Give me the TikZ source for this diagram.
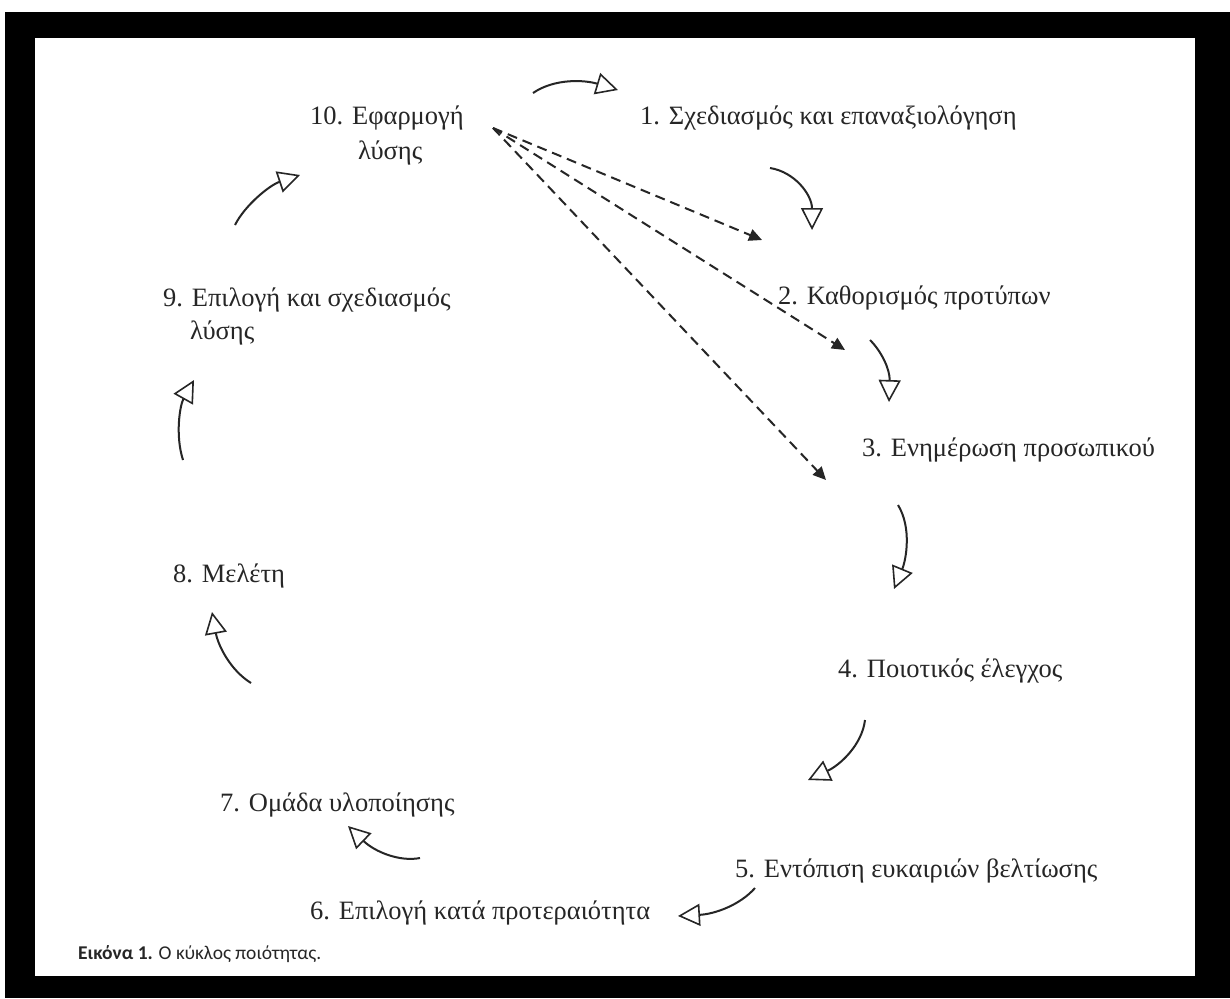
\documentclass[tikz,border=0pt]{standalone}
\usepackage{fontspec}
\setmainfont{Liberation Serif}
\newfontfamily\capfont{Carlito}
\usetikzlibrary{arrows.meta}
\begin{document}
\begin{tikzpicture}[x=1pt,y=-1pt,
  lbl/.style={anchor=base west, inner sep=0pt, font=\fontsize{26.5}{32}\selectfont, text=black!85},
  cyc/.style={line width=2pt, black!85, -{Triangle[open,length=22pt,width=22pt,line width=1.6pt]}},
  dsh/.style={line width=2pt, black!85, dash pattern=on 10pt off 6pt, -{Triangle[length=13pt,width=12pt]}}]
\fill[white] (0,0) rectangle (1230,998);
\fill[black] (5,12) rectangle (1230,998);
\fill[white] (35,38) rectangle (1195,976);
% labels
\node[lbl] (n10) at (310,124) {10. Εφαρμογή};
\node[lbl] (n10b) at (358,159) {λύσης};
\node[lbl] (n1) at (640,124) {1. Σχεδιασμός και επαναξιολόγηση};
\node[lbl] (n2) at (778,304) {2. Καθορισμός προτύπων};
\node[lbl] (n3) at (862,456) {3. Ενημέρωση προσωπικού};
\node[lbl] (n4) at (838,677) {4. Ποιοτικός έλεγχος};
\node[lbl] (n5) at (735,877) {5. Εντόπιση ευκαιριών βελτίωσης};
\node[lbl] (n6) at (310,919) {6. Επιλογή κατά προτεραιότητα};
\node[lbl] (n7) at (220,811) {7. Ομάδα υλοποίησης};
\node[lbl] (n8) at (173,582) {8. Μελέτη};
\node[lbl] (n9) at (163,306) {9. Επιλογή και σχεδιασμός};
\node[lbl] (n9b) at (190,339) {λύσης};
\node[anchor=base west, inner sep=0pt, font=\capfont\fontsize{19.5}{24}\selectfont, text=black!85] (cap) at (78,959) {\textbf{Εικόνα 1.} Ο κύκλος ποιότητας.};
% arrow endpoints
\coordinate (a1s) at (533,93);  \coordinate (a1e) at (618,90);
\coordinate (a2s) at (770,168); \coordinate (a2e) at (812,230);
\coordinate (a3s) at (870,340); \coordinate (a3e) at (889,402);
\coordinate (a4s) at (898,505); \coordinate (a4e) at (894,589);
\coordinate (a5s) at (865,720); \coordinate (a5e) at (808,780);
\coordinate (a6s) at (755,888); \coordinate (a6e) at (678,916);
\coordinate (a7s) at (420,858); \coordinate (a7e) at (348,826);
\coordinate (a8s) at (251,683); \coordinate (a8e) at (212,612);
\coordinate (a9s) at (183,460); \coordinate (a9e) at (194,380);
\coordinate (a10s) at (235,225); \coordinate (a10e) at (300,175);
\draw[cyc] (a1s) .. controls (555,78) and (585,80) .. (a1e);
\draw[cyc] (a2s) .. controls (795,172) and (812,195) .. (a2e);
\draw[cyc] (a3s) .. controls (882,352) and (890,370) .. (a3e);
\draw[cyc] (a4s) .. controls (912,528) and (906,560) .. (a4e);
\draw[cyc] (a5s) .. controls (862,745) and (840,765) .. (a5e);
\draw[cyc] (a6s) .. controls (740,905) and (715,914) .. (a6e);
\draw[cyc] (a7s) .. controls (400,862) and (375,852) .. (a7e);
\draw[cyc] (a8s) .. controls (230,670) and (218,645) .. (a8e);
\draw[cyc] (a9s) .. controls (175,435) and (180,405) .. (a9e);
\draw[cyc] (a10s) .. controls (245,205) and (270,185) .. (a10e);
% dashed
\coordinate (src) at (493,128);
\coordinate (d2) at (762,240);
\coordinate (d3) at (845,350);
\coordinate (d4) at (826,480);
\draw[dsh] (src) -- (d2);
\draw[dsh] (src) -- (d3);
\draw[dsh] (src) -- (d4);
\end{tikzpicture}
\end{document}
